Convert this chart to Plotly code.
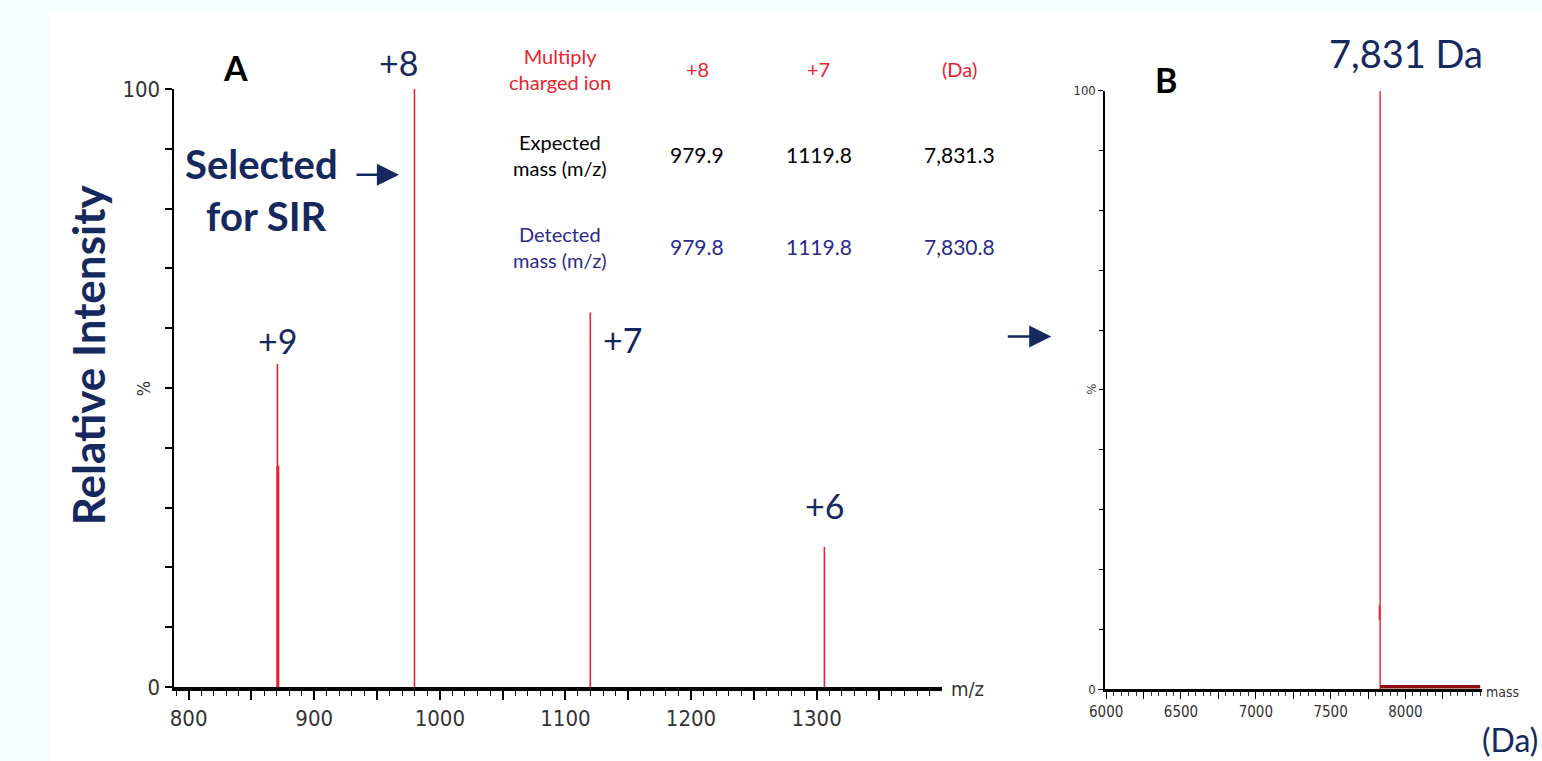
import plotly.graph_objects as go

# ---------------- data ----------------
mz_a = [870.7, 979.8, 1119.8, 1306.2]
int_a = [54.0, 100.0, 62.6, 23.4]
mz_a_thick = [871.0]
int_a_thick = [37.0]
charge_labels = ["+9", "+8", "+7", "+6"]

mass_b = [7831]
int_b = [100.0]
shoulder_b_x = [7826, 7826]
shoulder_b_y = [11.5, 14.0]
noise_b_x = [7831, 8500]
noise_b_y = [0.4, 0.4]

xticks_a = [800, 850, 900, 950, 1000, 1050, 1100, 1150, 1200, 1250, 1300, 1350, 1400]
xticklabels_a = ["800", "", "900", "", "1000", "", "1100", "", "1200", "", "1300", "", "1400"]
xticks_b = [6000, 6250, 6500, 6750, 7000, 7250, 7500, 7750, 8000, 8250]
xticklabels_b = ["6000", "", "6500", "", "7000", "", "7500", "", "8000", ""]

table_rows = [
    ("Multiply<br>charged ion", "+8", "+7", "(Da)"),
    ("Expected<br>mass (m/z)", "979.9", "1119.8", "7,831.3"),
    ("Detected<br>mass (m/z)", "979.8", "1119.8", "7,830.8"),
]

W, H = 1542, 761
# observed rendering region of the figure inside the screenshot
OX, OY, RW, RH = 12, 12, 1530, 737
BG = "#f4fdfd"
RED = "#e8232d"
NAVY = "#16295e"
TXT = "Lato, Noto Sans, sans-serif"
TICKF = "Liberation Sans Narrow, Arial Narrow, DejaVu Sans Condensed, sans-serif"


def px(x):
    return (x - OX) / RW


def py(y):
    return 1 - (y - OY) / RH


def sticks(xs, ys):
    sx, sy = [], []
    for x, y in zip(xs, ys):
        sx += [x, x, None]
        sy += [0, y, None]
    return sx, sy


fig = go.Figure()
sx, sy = sticks(mz_a, int_a)
fig.add_trace(go.Scatter(x=sx, y=sy, mode="lines", line=dict(color=RED, width=1.6),
                         xaxis="x", yaxis="y", hoverinfo="skip"))
sx, sy = sticks(mz_a_thick, int_a_thick)
fig.add_trace(go.Scatter(x=sx, y=sy, mode="lines", line=dict(color=RED, width=3),
                         xaxis="x", yaxis="y", hoverinfo="skip"))
sx, sy = sticks(mass_b, int_b)
fig.add_trace(go.Scatter(x=sx, y=sy, mode="lines", line=dict(color=RED, width=1.4),
                         xaxis="x2", yaxis="y2", hoverinfo="skip"))
fig.add_trace(go.Scatter(x=shoulder_b_x, y=shoulder_b_y, mode="lines",
                         line=dict(color=RED, width=1.4),
                         xaxis="x2", yaxis="y2", hoverinfo="skip"))
fig.add_trace(go.Scatter(x=noise_b_x, y=noise_b_y, mode="lines",
                         line=dict(color="#8e0c10", width=3.5),
                         xaxis="x2", yaxis="y2", hoverinfo="skip"))

common_x = dict(showgrid=False, zeroline=False, showline=True, linecolor="black",
                ticks="outside", tickcolor="black", fixedrange=True)
common_y = dict(showgrid=False, zeroline=False, showline=True, linecolor="black",
                ticks="outside", tickcolor="black", fixedrange=True,
                range=[0, 100], tickvals=[0, 100], ticktext=["0", "100"])

fig.update_layout(
    width=W, height=H,
    margin=dict(l=0, r=0, t=0, b=0),
    paper_bgcolor=BG,
    plot_bgcolor="rgba(0,0,0,0)",
    showlegend=False,
    xaxis=dict(common_x, domain=[px(170), px(940)], anchor="y", range=[788, 1399.5],
               tickvals=xticks_a, ticktext=xticklabels_a, ticklen=9, tickwidth=1.5,
               linewidth=3.5,
               tickfont=dict(family=TICKF, size=22, color="#333"),
               minor=dict(dtick=10, tick0=800, ticklen=5, tickwidth=1, ticks="outside",
                          tickcolor="black")),
    yaxis=dict(common_y, domain=[py(688), py(89)], anchor="x", ticklen=7, linewidth=2,
               tickfont=dict(family=TICKF, size=22, color="#333"),
               minor=dict(dtick=10, ticklen=7, tickwidth=1.5, ticks="outside",
                          tickcolor="black")),
    xaxis2=dict(common_x, domain=[px(1104), px(1482)], anchor="y2", range=[5993, 8513],
                tickvals=xticks_b, ticktext=xticklabels_b, ticklen=7, tickwidth=1.2,
                linewidth=3,
                tickfont=dict(family=TICKF, size=15, color="#333"),
                minor=dict(dtick=50, tick0=6000, ticklen=4, tickwidth=1, ticks="outside",
                           tickcolor="#333")),
    yaxis2=dict(common_y, domain=[py(690), py(91)], anchor="x2", ticklen=5, linewidth=1.5,
                tickfont=dict(family=TICKF, size=13, color="#333"),
                minor=dict(dtick=10, ticklen=4, tickwidth=1.2, ticks="outside",
                           tickcolor="black")),
)

# white panel behind everything
fig.add_shape(type="rect", xref="paper", yref="paper", x0=px(45), x1=1.02, y0=-0.05,
              y1=py(10), fillcolor="white", line=dict(width=0), layer="below")

ann = []


def txt(x, y, text, size, color=NAVY, bold=False, family=TXT, angle=0,
        xanchor="center", align="center"):
    if bold:
        text = "<b>" + text + "</b>"
    ann.append(dict(x=px(x), y=py(y), xref="paper", yref="paper", text=text,
                    showarrow=False, font=dict(family=family, size=size, color=color),
                    textangle=angle, xanchor=xanchor, yanchor="middle", align=align))


# peak labels (positioned in data coords)
label_offsets = [(0, 24), (-16, 26), (32, -27), (0, 42)]
for m, i, lab, (dx, dy) in zip(mz_a, int_a, charge_labels, label_offsets):
    ann.append(dict(x=m, y=i, xref="x", yref="y", text=lab, showarrow=False,
                    font=dict(family=TXT, size=34, color=NAVY), xshift=dx, yshift=dy,
                    yanchor="middle"))
ann.append(dict(x=mass_b[0], y=int_b[0], xref="x2", yref="y2", text="7,831 Da",
                showarrow=False, font=dict(family=TXT, size=38, color=NAVY),
                xshift=26, yshift=38, yanchor="middle"))

txt(232, 68, "A", 34, color="black", bold=True)
txt(1165, 80, "B", 34, color="black", bold=True)
txt(258, 190, "Selected<br> for SIR", 40, bold=True)
txt(84, 355, "Relative Intensity", 44, bold=True, angle=-90)
txt(140, 389, "%", 18, color="#333", family=TICKF, angle=-90)
txt(1090, 390, "%", 13, color="#333", family=TICKF, angle=-90)
txt(966, 690, "m/z", 20, color="#333", family=TICKF)
txt(1502, 693, "mass", 14, color="#333", family=TICKF)
txt(1510, 740, "(Da)", 32)

# table
col_x = [557, 695, 817, 958]
row_y = [69, 155, 247]
row_col = [RED, "black", "#2a2a8c"]
for r, row in enumerate(table_rows):
    for c, cell in enumerate(row):
        size = 20 if (c == 0 or r == 0) else 21
        txt(col_x[c], row_y[r], cell, size, color=row_col[r])

# arrows (head position in paper coords, tail as pixel offset)
arrows = [(352, 175, 396, 175), (1005, 337, 1050, 337)]
for x0, y0, x1, y1 in arrows:
    ann.append(dict(x=px(x1), y=py(y1), xref="paper", yref="paper",
                    ax=x0 - x1, ay=y0 - y1, axref="pixel", ayref="pixel",
                    text="", showarrow=True, arrowhead=2, arrowsize=1.7,
                    arrowwidth=2.6, arrowcolor=NAVY))

fig.update_layout(annotations=ann)
fig.write_html("out.html",
               config={"displayModeBar": False},
               post_script="document.body.style.margin='0';"
                           "document.body.style.overflow='hidden';"
                           "document.body.style.background='" + BG + "';")
